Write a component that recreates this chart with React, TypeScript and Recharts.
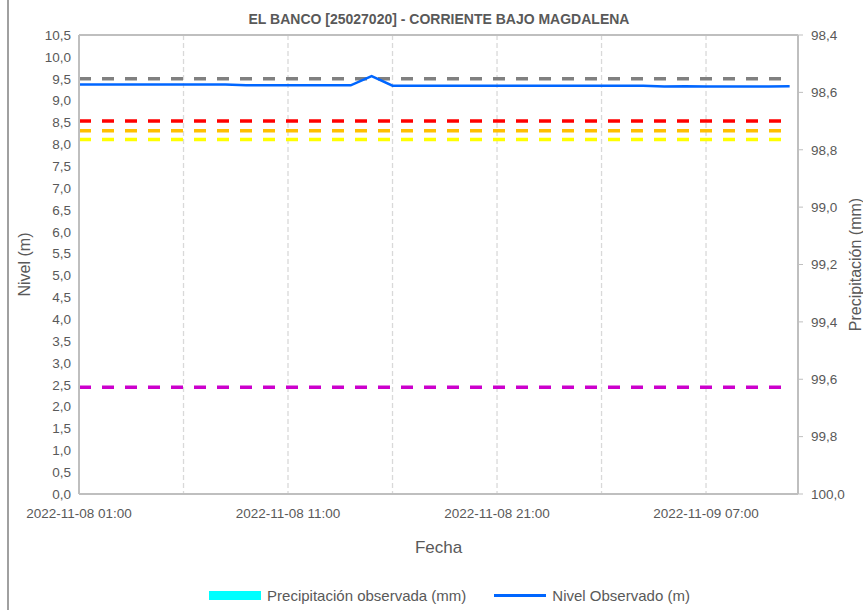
import React from 'react';
import {
    ComposedChart,
    Line,
    Bar,
    XAxis,
    YAxis,
    CartesianGrid,
    ReferenceLine,
    Legend
} from 'recharts';

// horas transcurridas desde 2022-11-08 01:00
const horas = [
    0, 1, 2, 3, 4, 5, 6, 7, 8, 9, 10, 11, 12, 13, 14, 15, 16, 17,
    18, 19, 20, 21, 22, 23, 24, 25, 26, 27, 28, 29, 30, 31, 32, 33, 34
];

// Nivel observado (m)
const nivel = [
    9.37, 9.37, 9.37, 9.37, 9.37, 9.37, 9.37, 9.37, 9.35, 9.35, 9.35, 9.35, 9.35, 9.35, 9.56, 9.34, 9.34, 9.34,
    9.34, 9.34, 9.34, 9.34, 9.34, 9.34, 9.34, 9.34, 9.34, 9.34, 9.32, 9.33, 9.32, 9.32, 9.32, 9.32, 9.33
];

// Precipitación observada (mm): sin registros
const precipitacion: (number | null)[] = [
    null, null, null, null, null, null, null, null, null, null, null, null, null, null, null, null, null, null,
    null, null, null, null, null, null, null, null, null, null, null, null, null, null, null, null, null
];

// umbrales (m)
const umbrales = [9.5, 8.53, 8.31, 8.11, 2.44];
const coloresUmbral = ['#808080', '#ff0000', '#ffc000', '#ffff00', '#cc00cc'];

const ticksHora = [0, 5, 10, 15, 20, 25, 30];
const etiquetasFecha = ['2022-11-08 01:00', '2022-11-08 11:00', '2022-11-08 21:00', '2022-11-09 07:00'];

const ticksNivel = [0, 0.5, 1, 1.5, 2, 2.5, 3, 3.5, 4, 4.5, 5, 5.5, 6, 6.5, 7, 7.5, 8, 8.5, 9, 9.5, 10, 10.5];
const ticksPrecip = [98.4, 98.6, 98.8, 99.0, 99.2, 99.4, 99.6, 99.8, 100.0];

const data = horas.map((h, i) => {
    const row: Record<string, number | null> = { h, nivel: nivel[i], precip: precipitacion[i] };
    umbrales.forEach((u, k) => { row['u' + k] = u; });
    return row;
});

const coma = (v: number) => v.toFixed(1).replace('.', ',');
const textColor = '#595959';
const axisColor = '#bfbfbf';

const LeyendaCustom = (props: any) => {
    const items = (props.payload || [])
        .filter((p: any) => p.type !== 'none')
        .sort((a: any, b: any) => (a.type === 'rect' ? -1 : 0) - (b.type === 'rect' ? -1 : 0));
    return (
        <div style={{ display: 'flex', justifyContent: 'center', alignItems: 'center', paddingLeft: 36, height: 30, gap: 28 }}>
            {items.map((p: any) => (
                <div key={p.value} style={{ display: 'flex', alignItems: 'center', gap: 6 }}>
                    {p.type === 'rect' ? (
                        <div style={{ width: 52, height: 9, background: '#00ffff' }} />
                    ) : (
                        <div style={{ width: 52, height: 3, background: '#0066ff' }} />
                    )}
                    <span style={{ fontSize: 15, color: textColor }}>{p.value}</span>
                </div>
            ))}
        </div>
    );
};

export default function App() {
    return (
        <div style={{ position: 'absolute', left: 0, top: 0, width: 863, height: 610, background: '#fff', fontFamily: '"Liberation Sans", Arial, sans-serif', overflow: 'hidden' }}>
            <div style={{ position: 'absolute', left: 7, top: 0, width: 2, height: 610, background: '#a0a0a0' }} />
            <div style={{ position: 'absolute', left: 79, top: 10, width: 720, textAlign: 'center', fontSize: 14, fontWeight: 'bold', color: textColor, lineHeight: '18px' }}>
                EL BANCO [25027020] - CORRIENTE BAJO MAGDALENA
            </div>
            <ComposedChart width={863} height={610} data={data} margin={{ top: 35, right: 0, bottom: 0, left: 0 }}>
                <CartesianGrid stroke="#d9d9d9" strokeDasharray="5 3" strokeWidth={1.3} />
                <XAxis
                    dataKey="h"
                    type="number"
                    domain={[0, 34.4]}
                    allowDataOverflow
                    ticks={ticksHora}
                    interval={0}
                    height={86}
                    tickLine={false}
                    tickSize={6}
                    tickMargin={8}
                    axisLine={{ stroke: axisColor, strokeWidth: 2 }}
                    tick={{ fill: textColor, fontSize: 13.5 }}
                    tickFormatter={(v: number) => (v % 10 === 0 ? etiquetasFecha[v / 10] : '')}
                    label={{ value: 'Fecha', position: 'insideBottom', offset: 27, fill: textColor, fontSize: 17 }}
                />
                <YAxis
                    yAxisId="nivel"
                    width={79}
                    domain={[0, 10.5]}
                    allowDataOverflow
                    ticks={ticksNivel}
                    interval={0}
                    tickLine={false}
                    axisLine={{ stroke: axisColor, strokeWidth: 2 }}
                    tick={{ fill: textColor, fontSize: 13.5 }}
                    tickFormatter={coma}
                    label={(p: any) => {
                        const vb = p.viewBox || {};
                        const cx = (vb.x || 0) + 24;
                        const cy = (vb.y || 0) + (vb.height || 0) / 2;
                        return (
                            <text x={cx} y={cy} transform={`rotate(-90 ${cx} ${cy})`} textAnchor="middle" dominantBaseline="central" fill={textColor} fontSize={16}>
                                Nivel (m)
                            </text>
                        );
                    }}
                />
                <YAxis
                    yAxisId="precip"
                    orientation="right"
                    type="number"
                    width={65}
                    domain={[98.4, 100]}
                    allowDataOverflow
                    reversed
                    ticks={ticksPrecip}
                    interval={0}
                    tickSize={5}
                    tickMargin={8}
                    tickLine={{ stroke: axisColor }}
                    axisLine={{ stroke: axisColor, strokeWidth: 2 }}
                    tick={{ fill: textColor, fontSize: 13.5 }}
                    tickFormatter={coma}
                    label={(p: any) => {
                        const vb = p.viewBox || {};
                        const cx = (vb.x || 0) + 57;
                        const cy = (vb.y || 0) + (vb.height || 0) / 2;
                        return (
                            <text x={cx} y={cy} transform={`rotate(-90 ${cx} ${cy})`} textAnchor="middle" dominantBaseline="central" fill={textColor} fontSize={16}>
                                Precipitación (mm)
                            </text>
                        );
                    }}
                />
                <ReferenceLine yAxisId="nivel" y={10.5} stroke={axisColor} strokeWidth={2} />
                <Bar yAxisId="precip" dataKey="precip" name="Precipitación observada (mm)" fill="#00ffff" legendType="rect" isAnimationActive={false} />
                {umbrales.map((u, k) => (
                    <Line
                        key={'u' + k}
                        yAxisId="nivel"
                        type="linear"
                        dataKey={'u' + k}
                        stroke={coloresUmbral[k]}
                        strokeWidth={3.5}
                        strokeDasharray="12 11"
                        dot={false}
                        activeDot={false}
                        legendType="none"
                        isAnimationActive={false}
                    />
                ))}
                <Line
                    yAxisId="nivel"
                    type="linear"
                    dataKey="nivel"
                    name="Nivel Observado (m)"
                    stroke="#0066ff"
                    strokeWidth={2.5}
                    dot={false}
                    legendType="line"
                    isAnimationActive={false}
                />
                <Legend verticalAlign="bottom" height={30} content={LeyendaCustom} />
            </ComposedChart>
        </div>
    );
}
